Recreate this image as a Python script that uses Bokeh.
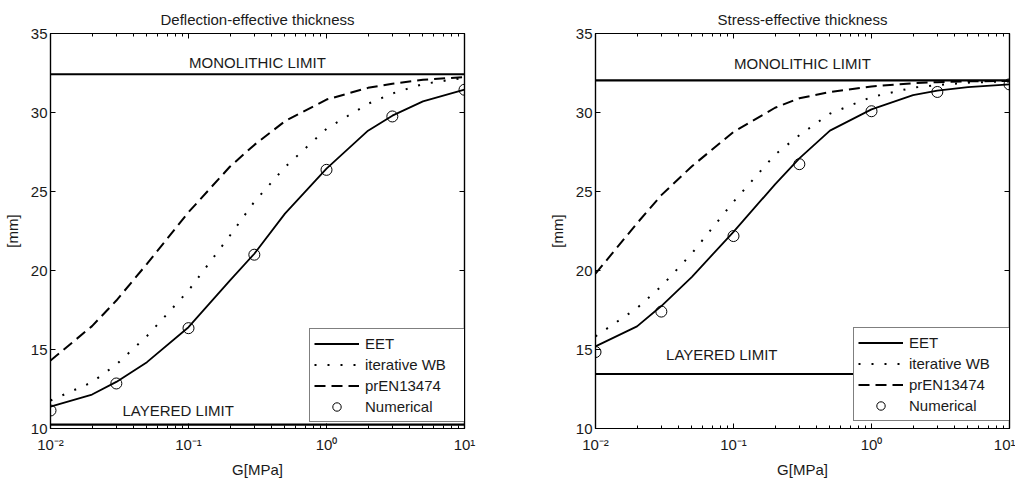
from bokeh.plotting import figure
from bokeh.layouts import row
from bokeh.models import (Range1d, FixedTicker, LinearAxis, LogAxis, Span, Label,
                          CustomJSTickFormatter)
from bokeh.embed import file_html
from bokeh.resources import INLINE

# ---------------- data ----------------
G = [0.01, 0.02, 0.03, 0.05, 0.1, 0.2, 0.3, 0.5, 1, 2, 3, 5, 10]
G_num = [0.01, 0.03, 0.1, 0.3, 1, 3, 10]

# Deflection-effective thickness
defl_eet = [11.38, 12.15, 12.95, 14.2, 16.41, 19.37, 21.06, 23.6, 26.45, 28.85, 29.8, 30.7, 31.45]
defl_wb = [11.77, 12.93, 14.05, 15.85, 18.73, 22.22, 24.35, 26.54, 28.97, 30.55, 31.2, 31.8, 32.2]
defl_en = [14.3, 16.48, 18.1, 20.42, 23.69, 26.58, 27.95, 29.45, 30.82, 31.56, 31.82, 32.07, 32.24]
defl_num = [11.14, 12.85, 16.35, 21.0, 26.37, 29.75, 31.44]
defl_mono = 32.42
defl_layer = 10.25

# Stress-effective thickness
str_eet = [15.2, 16.46, 17.75, 19.6, 22.45, 25.45, 27.1, 28.85, 30.2, 31.1, 31.38, 31.6, 31.78]
str_wb = [15.83, 17.62, 19.0, 21.09, 24.35, 27.34, 28.56, 29.93, 30.98, 31.57, 31.74, 31.89, 31.97]
str_en = [19.8, 22.99, 24.77, 26.6, 28.77, 30.3, 30.9, 31.3, 31.65, 31.85, 31.92, 31.97, 32.0]
str_num = [14.84, 17.4, 22.18, 26.73, 30.08, 31.3, 31.78]
str_mono = 32.03
str_layer = 13.45

y_ticks = [10, 15, 20, 25, 30, 35]
x_major = [0.01, 0.1, 1, 10]
x_minor = [k * 10.0 ** e for e in (-2, -1, 0) for k in range(2, 10)]

FONT = "Liberation Sans"
TXT = "#1a1a1a"
FS = "15px"

sup_code = """
const sup = {"-": "\\u207B", "0": "\\u2070", "1": "\\u00B9", "2": "\\u00B2", "3": "\\u00B3"};
const e = Math.round(Math.log10(tick));
return "10" + String(e).split("").map(c => sup[c]).join("");
"""
empty_code = "return '';"


def style_axis(ax, labels=True):
    ax.axis_line_color = "black"
    ax.axis_line_width = 1.2
    ax.major_tick_in = 5
    ax.major_tick_out = 0
    ax.minor_tick_in = 3
    ax.minor_tick_out = 0
    ax.major_tick_line_color = "black"
    ax.minor_tick_line_color = "black"
    ax.major_label_text_font = FONT
    ax.major_label_text_font_size = FS
    ax.major_label_text_color = TXT
    ax.axis_label_text_font = FONT
    ax.axis_label_text_font_size = FS
    ax.axis_label_text_font_style = "normal"
    ax.axis_label_text_color = TXT
    if not labels:
        ax.major_label_text_font_size = "1px"
        ax.major_label_standoff = 0


def make_plot(title, eet, wb, en, num, mono, layer, layer_x, layer_off, mono_off,
              border_left, border_right, legend_loc):
    p = figure(x_axis_type="log", frame_width=414, frame_height=395,
               x_range=Range1d(0.01, 10), y_range=Range1d(10, 35),
               output_backend="svg", toolbar_location=None,
               min_border_left=border_left, min_border_right=border_right,
               min_border_top=33, min_border_bottom=45,
               background_fill_color="white", border_fill_color="white")
    p.grid.visible = False
    p.outline_line_color = "black"
    p.outline_line_width = 1.2

    p.title.text = title
    p.title.align = "center"
    p.title.text_font = FONT
    p.title.text_font_size = FS
    p.title.text_font_style = "normal"
    p.title.text_color = TXT
    p.title.standoff = 12

    xt = FixedTicker(ticks=x_major, minor_ticks=x_minor)
    yt = FixedTicker(ticks=y_ticks, minor_ticks=[])

    xa = p.xaxis[0]
    xa.ticker = xt
    xa.formatter = CustomJSTickFormatter(code=sup_code)
    xa.axis_label = "G[MPa]"
    style_axis(xa)
    xa.major_label_standoff = 7
    xa.axis_label_standoff = 5

    ya = p.yaxis[0]
    ya.ticker = yt
    ya.axis_label = "[mm]"
    style_axis(ya)
    ya.major_label_standoff = 3
    ya.axis_label_standoff = 7

    top = LogAxis(ticker=xt, formatter=CustomJSTickFormatter(code=empty_code))
    style_axis(top, labels=False)
    p.add_layout(top, "above")
    right = LinearAxis(ticker=yt, formatter=CustomJSTickFormatter(code=empty_code))
    style_axis(right, labels=False)
    p.add_layout(right, "right")

    p.add_layout(Span(location=mono, dimension="width", line_color="black", line_width=2.2))
    p.add_layout(Span(location=layer, dimension="width", line_color="black", line_width=2.2))

    p.add_layout(Label(x=0.316, y=mono, y_offset=mono_off, text="MONOLITHIC LIMIT",
                       text_align="center", text_baseline="bottom",
                       text_font=FONT, text_font_size=FS, text_color=TXT))
    p.add_layout(Label(x=layer_x, y=layer, y_offset=layer_off, text="LAYERED LIMIT",
                       text_align="center", text_baseline="bottom",
                       text_font=FONT, text_font_size=FS, text_color=TXT))

    p.line(G, eet, line_color="black", line_width=1.8, legend_label="EET")
    p.line(G, wb, line_color="black", line_width=2.0, line_dash="2 11",
           legend_label="iterative WB")
    p.line(G, en, line_color="black", line_width=2.0, line_dash="11 6",
           legend_label="prEN13474")
    p.scatter(G_num, num, marker="circle", size=11, fill_color=None,
              line_color="black", line_width=1, legend_label="Numerical")

    lg = p.legend[0]
    lg.location = legend_loc
    lg.border_line_color = "black"
    lg.border_line_width = 1.2
    lg.background_fill_color = "white"
    lg.background_fill_alpha = 1
    lg.label_text_font = FONT
    lg.label_text_font_size = FS
    lg.label_text_color = TXT
    lg.glyph_width = 45
    lg.glyph_height = 21
    lg.label_height = 21
    lg.label_width = 96
    lg.label_standoff = 6
    lg.spacing = 0
    lg.padding = 4
    lg.margin = 0
    return p


p1 = make_plot("Deflection-effective thickness", defl_eet, defl_wb, defl_en, defl_num,
               defl_mono, defl_layer, 0.0842, 6, 3, 44, 60, (259, 6))
p2 = make_plot("Stress-effective thickness", str_eet, str_wb, str_en, str_num,
               str_mono, str_layer, 0.0822, 11, 8, 71, 6, (258, 7))

layout = row(p1, p2)
open("out.html", "w", encoding="utf-8").write(file_html(layout, INLINE))
